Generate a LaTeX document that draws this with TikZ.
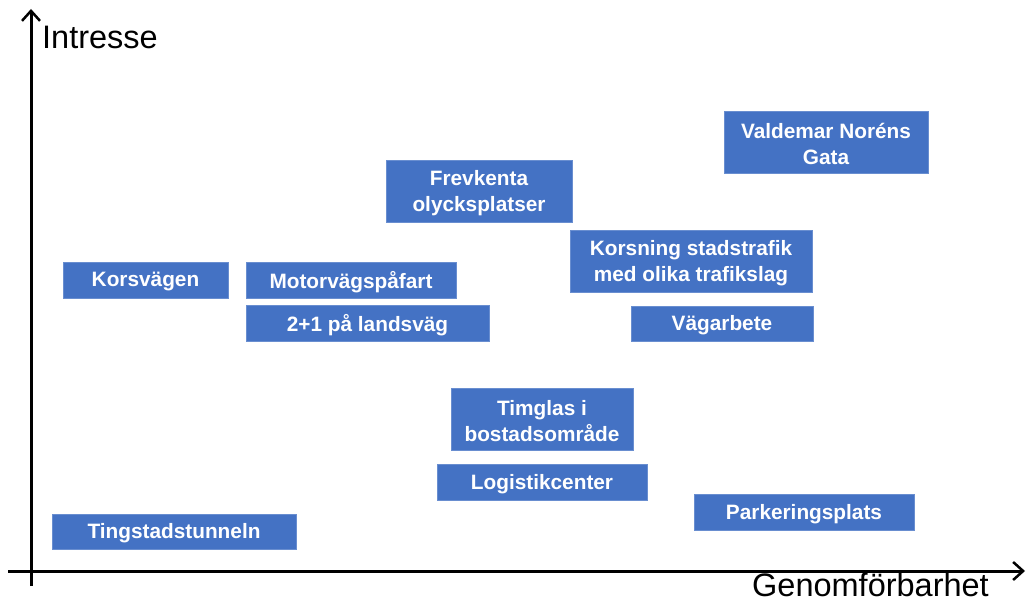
\documentclass[tikz,border=0pt]{standalone}
\usepackage{fontspec}
\setmainfont{Liberation Sans}
\usetikzlibrary{arrows.meta}
\definecolor{boxblue}{HTML}{4472C4}
\begin{document}
\begin{tikzpicture}[x=1pt,y=-1pt,
  item/.style={fill=boxblue,draw=boxblue!80!white,line width=0.6pt,text=white,
    font=\fontsize{20.8}{25.5}\selectfont\bfseries,align=center,inner sep=0pt},
  axis/.style={line width=3pt,-{Straight Barb[length=10pt,width=18pt,line width=2.5pt]}},
  axlabel/.style={font=\fontsize{32.5}{36}\selectfont,inner sep=0pt}]
\useasboundingbox (0,0) rectangle (1026,599);
\coordinate (yb) at (31,586);
\coordinate (yt) at (31,9);
\coordinate (xl) at (8,571);
\coordinate (xr) at (1025,571);
\draw[axis] (yb) -- (yt);
\draw[axis] (xl) -- (xr);
\node[axlabel,anchor=west] (ylab) at (42,37) {Intresse};
\node[axlabel,anchor=base east] (xlab) at (989,596) {Genomförbarhet};
\newcommand{\itembox}[6]{%
  \path[item] (#2,#3) rectangle (#4,#5);
  \node[item,fill=none,draw=none] (#1) at ({(#2+#4)/2},{(#3+#5)/2+2}) {#6};}
\itembox{vng}{724}{111}{928}{173}{Valdemar Noréns\\Gata}
\itembox{fo}{386}{160}{572}{222}{Frevkenta\\olycksplatser}
\itembox{ks}{570}{230}{812}{292}{Korsning stadstrafik\\med olika trafikslag}
\itembox{kv}{63}{262}{228}{298}{Korsvägen}
\itembox{mp}{246}{262}{456}{298}{Motorvägspåfart}
\itembox{tl}{246}{305}{489}{341}{2+1 på landsväg}
\itembox{va}{631}{306}{813}{341}{Vägarbete}
\itembox{tb}{451}{388}{633}{450}{Timglas i\\bostadsområde}
\itembox{lc}{437}{464}{647}{500}{Logistikcenter}
\itembox{pp}{694}{494}{914}{530}{Parkeringsplats}
\itembox{ts}{52}{514}{296}{549}{Tingstadstunneln}
\end{tikzpicture}
\end{document}
